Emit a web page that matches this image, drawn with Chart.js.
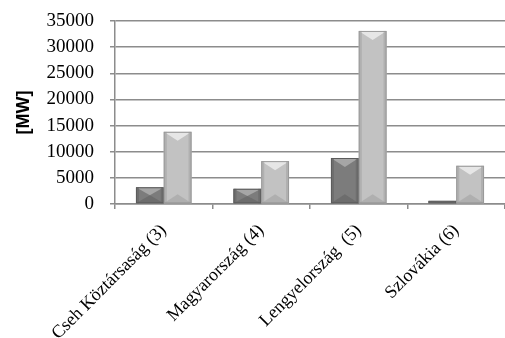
<!DOCTYPE html>
<html>
<head>
<meta charset="utf-8">
<script src="https://cdn.jsdelivr.net/npm/chart.js@4/dist/chart.umd.min.js"></script>
<style>
  html, body { margin: 0; padding: 0; background: #fff; }
  #wrap { width: 505px; height: 338px; }
</style>
</head>
<body>
<div id="wrap"><canvas id="c" width="505" height="338"></canvas></div>
<script>
const countries = ['Cseh Köztársaság (3)', 'Magyarország (4)', 'Lengyelország  (5)', 'Szlovákia (6)'];
const seriesA = [3200, 2900, 8800, 600];
const seriesB = [13800, 8200, 33100, 7300];
const yMax = 35000;
const yStep = 5000;

const GRID = '#8c8c8c';

// Draws a bevelled face on every bar: light top wedge, shaded sides and bottom.
const bevelPlugin = {
  id: 'bevel',
  afterDatasetsDraw(chart) {
    const ctx = chart.ctx;
    const shades = [
      { top: '#a6a6a6', side: '#666666', bottom: '#5c5c5c' },
      { top: '#e6e6e6', side: '#a3a3a3', bottom: '#9a9a9a' }
    ];
    chart.data.datasets.forEach((ds, di) => {
      const meta = chart.getDatasetMeta(di);
      const s = shades[di];
      meta.data.forEach(bar => {
        const w = bar.width, l = bar.x - w / 2, r = bar.x + w / 2;
        const t = bar.y, b = bar.base, h = b - t;
        const d = Math.min(w / 2, h / 2, 9);
        const sd = Math.min(w / 2, h / 2, 3);
        ctx.save();
        ctx.fillStyle = s.top;
        ctx.beginPath();
        ctx.moveTo(l, t); ctx.lineTo(r, t); ctx.lineTo(bar.x, t + d); ctx.closePath();
        ctx.fill();
        ctx.fillStyle = s.bottom;
        ctx.globalAlpha = 0.45;
        ctx.beginPath();
        ctx.moveTo(l, b); ctx.lineTo(r, b); ctx.lineTo(bar.x, b - d); ctx.closePath();
        ctx.fill();
        ctx.globalAlpha = 0.6;
        ctx.fillStyle = s.side;
        ctx.fillRect(l, t, sd, h);
        ctx.fillRect(r - sd, t, sd, h);
        ctx.globalAlpha = 1;
        ctx.strokeStyle = s.bottom;
        ctx.lineWidth = 1;
        ctx.strokeRect(l + 0.5, t + 0.5, w - 1, h - 1);
        ctx.restore();
      });
    });
  }
};

new Chart(document.getElementById('c'), {
  type: 'bar',
  data: {
    labels: countries,
    datasets: [
      { label: 'A', data: seriesA, backgroundColor: '#7c7c7c', borderWidth: 0 },
      { label: 'B', data: seriesB, backgroundColor: '#c2c2c2', borderWidth: 0 }
    ]
  },
  options: {
    responsive: false,
    animation: false,
    events: [],
    layout: { padding: 0 },
    categoryPercentage: 0.57,
    barPercentage: 1.0,
    plugins: { legend: { display: false }, tooltip: { enabled: false } },
    scales: {
      x: {
        grid: { offset: true, drawOnChartArea: false, color: GRID, lineWidth: 1.5, tickLength: 5 },
        border: { color: GRID, width: 1.5 },
        ticks: {
          font: { family: 'Liberation Serif', size: 18 },
          color: '#000',
          minRotation: 45, maxRotation: 45,
          autoSkip: false, padding: 11
        },
        afterFit(scale) { scale.height = 134; }
      },
      y: {
        min: 0, max: yMax,
        grid: { color: GRID, lineWidth: 1.5, tickLength: 5 },
        border: { color: GRID, width: 1.5 },
        ticks: {
          stepSize: yStep,
          autoSkip: false,
          callback: v => String(v),
          font: { family: 'Liberation Serif', size: 19 },
          color: '#000',
          padding: 16
        },
        title: {
          display: true, text: '[MW]',
          font: { family: 'Liberation Sans', size: 18, weight: 'bold' },
          color: '#000',
          padding: { top: 13, bottom: 0 }
        },
        afterFit(scale) {
          scale.width = 115;
          scale.paddingTop = 21;
        }
      }
    }
  },
  plugins: [bevelPlugin]
});
</script>
</body>
</html>
